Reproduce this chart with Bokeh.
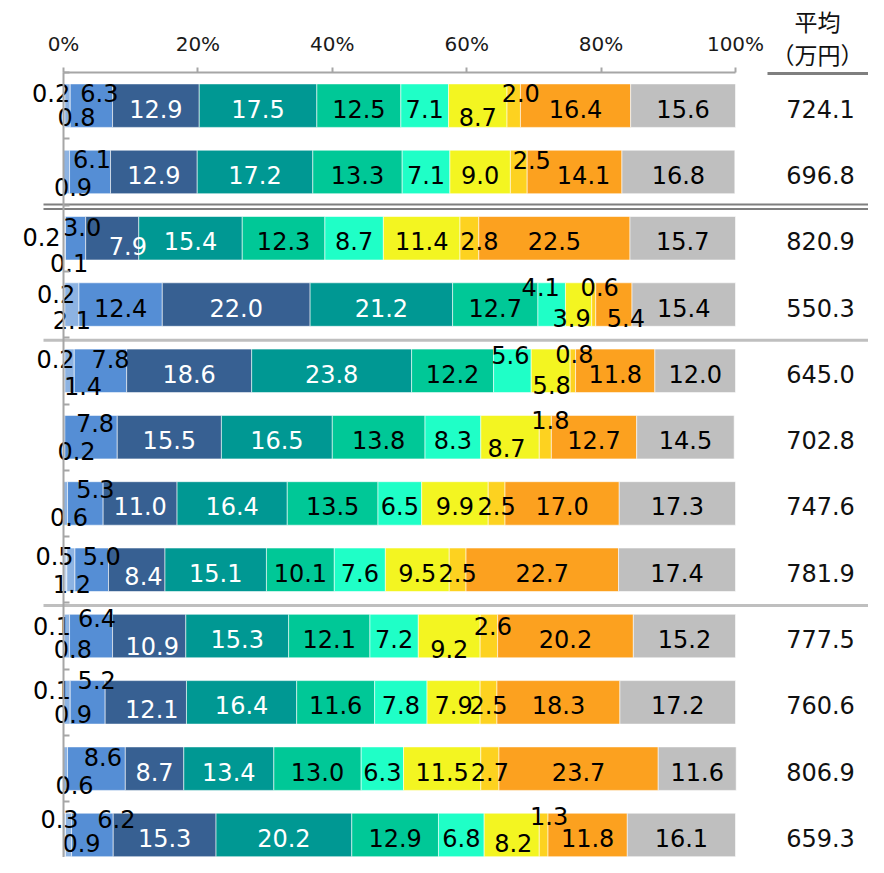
import numpy as np
from bokeh.plotting import figure
from bokeh.models import (Range1d, LinearAxis, FixedTicker, PrintfTickFormatter,
                          ColumnDataSource)
from bokeh.core.properties import value
from bokeh.embed import file_html
from bokeh.resources import INLINE

# ---------------- data (share of each band, %, one array per band) ----------------
s01 = [0.2, 0.0, 0.2, 0.2, 0.2, 0.0, 0.0, 0.5, 0.1, 0.1, 0.0, 0.3]
s02 = [0.8, 0.9, 0.1, 2.1, 1.4, 0.2, 0.6, 1.2, 0.8, 0.9, 0.6, 0.9]
s03 = [6.3, 6.1, 3.0, 12.4, 7.8, 7.8, 5.3, 5.0, 6.4, 5.2, 8.6, 6.2]
s04 = [12.9, 12.9, 7.9, 22.0, 18.6, 15.5, 11.0, 8.4, 10.9, 12.1, 8.7, 15.3]
s05 = [17.5, 17.2, 15.4, 21.2, 23.8, 16.5, 16.4, 15.1, 15.3, 16.4, 13.4, 20.2]
s06 = [12.5, 13.3, 12.3, 12.7, 12.2, 13.8, 13.5, 10.1, 12.1, 11.6, 13.0, 12.9]
s07 = [7.1, 7.1, 8.7, 4.1, 5.6, 8.3, 6.5, 7.6, 7.2, 7.8, 6.3, 6.8]
s08 = [8.7, 9.0, 11.4, 3.9, 5.8, 8.7, 9.9, 9.5, 9.2, 7.9, 11.5, 8.2]
s09 = [2.0, 2.5, 2.8, 0.6, 0.8, 1.8, 2.5, 2.5, 2.6, 2.5, 2.7, 1.3]
s10 = [16.4, 14.1, 22.5, 5.4, 11.8, 12.7, 17.0, 22.7, 20.2, 18.3, 23.7, 11.8]
s11 = [15.6, 16.8, 15.7, 15.4, 12.0, 14.5, 17.3, 17.4, 15.2, 17.2, 11.6, 16.1]
averages = [724.1, 696.8, 820.9, 550.3, 645.0, 702.8, 747.6, 781.9, 777.5, 760.6, 806.9, 659.3]
tick_values = [0, 20, 40, 60, 80, 100]
header_lines = ["平均", "（万円）"]

series = [s01, s02, s03, s04, s05, s06, s07, s08, s09, s10, s11]

# ---------------- style ----------------
colors = ["#c5d7ee", "#8db3e2", "#558ed5", "#376092", "#009893", "#00c897",
          "#1fffc7", "#f3f521", "#fdd220", "#fca11f", "#bfbfbf"]
label_colors = ["black", "black", "black", "white", "white", "black",
                "black", "black", "black", "black", "black"]
FONT = "DejaVu Sans"
JFONT = "Noto Sans CJK JP"
W, H = 868, 857
X0 = 63.0       # pixel of 0 %
TOP = 72.0      # pixel of the top axis
PX_X = 6.72     # pixels per percent
PX_Y = 66.3     # pixels per row
BAR_H = 43.5 / PX_Y
DEFAULT_DY = 3.0
# label nudges in pixels (row, band) -> (dx, dy of digit centre from row centre)
nudges = {
    (0, 0): (-13, -13), (0, 1): (9, 11.6), (0, 2): (8, -13), (0, 7): (0, 11.6), (0, 8): (7, -13),
    (1, 1): (6.5, 15), (1, 2): (2, -13), (1, 8): (13, -12), (1, 9): (9, 3),
    (2, 0): (-22.7, -1.5), (2, 1): (4, 25), (2, 2): (6.5, -11.5), (2, 3): (15.7, 8), (2, 8): (10, 3),
    (3, 0): (-8, -11), (3, 1): (0, 15), (3, 6): (-11, -17.7), (3, 7): (-7, 13), (3, 8): (6, -17.7), (3, 9): (12, 13),
    (4, 0): (-8.7, -12), (4, 1): (13.5, 15), (4, 2): (10, -12), (4, 6): (-2, -15.5), (4, 7): (1, 14.5), (4, 8): (1.5, -16.5),
    (5, 1): (12.3, 14), (5, 2): (4, -14), (5, 7): (-3.5, 11), (5, 8): (5, -16.7),
    (6, 1): (3.5, 14), (6, 2): (10, -14.5),
    (7, 0): (-10.7, -13.7), (7, 1): (1, 14.3), (7, 2): (10, -13.7), (7, 3): (6.7, 6.3),
    (8, 0): (-11.8, -10.4), (8, 1): (6, 13), (8, 2): (6, -18.4), (8, 3): (3, 9.6), (8, 7): (0, 12.6), (8, 8): (4, -10.4),
    (9, 0): (-11.8, -12.2), (9, 1): (5.8, 11.8), (9, 2): (9, -22), (9, 3): (6, 6.3),
    (10, 1): (9, 16), (10, 2): (6.5, -12),
    (11, 0): (-5, -16), (11, 1): (13, 8), (11, 2): (24, -16), (11, 7): (1.5, 8), (11, 8): (5.5, -18.5),
}

n_rows = len(averages)
row_y = [n_rows - i - 0.5 for i in range(n_rows)]


def dxp(px):
    """picture x pixel -> data x"""
    return (px - X0) / PX_X


def dyp(py):
    """picture y pixel -> data y"""
    return n_rows - (py - TOP) / PX_Y


# ---------------- build segment table ----------------
seg = dict(y=[], left=[], right=[], color=[])
lab = dict(x=[], y=[], text=[], color=[], dx=[], dy=[])
for i in range(n_rows):
    cum = 0.0
    for j, s in enumerate(series):
        v = s[i]
        seg["y"].append(row_y[i]); seg["left"].append(cum); seg["right"].append(cum + v)
        seg["color"].append(colors[j])
        if v > 0:
            dx, dy = nudges.get((i, j), (0, DEFAULT_DY))
            lab["x"].append(cum + v / 2); lab["y"].append(row_y[i])
            lab["text"].append(f"{v:.1f}"); lab["color"].append(label_colors[j])
            lab["dx"].append(dx); lab["dy"].append(dy)
        cum += v

x_range = Range1d(dxp(0), dxp(W))
y_range = Range1d(dyp(H), dyp(0))

p = figure(width=W, height=H, x_range=x_range, y_range=y_range,
           output_backend="svg", toolbar_location=None,
           x_axis_location=None, y_axis_location=None, min_border=0,
           outline_line_color=None, background_fill_color="white")
p.grid.visible = False

p.hbar(y="y", left="left", right="right", height=BAR_H, fill_color="color",
       line_color="white", line_width=0.8, line_alpha=0.7, source=ColumnDataSource(seg))

p.text(x="x", y="y", text="text", text_color="color", x_offset="dx", y_offset="dy",
       text_font=value(FONT), text_font_size=value("24px"), text_align="center",
       text_baseline="middle", source=ColumnDataSource(lab))

# separators between groups
for b, offs, col, lw in [(10, [-0.5, 4.0], "#7f7f7f", 2), (8, [2.5], "#bfbfbf", 3), (4, [2.5], "#bfbfbf", 3)]:
    for o in offs:
        yy = b - o / PX_Y
        p.segment(x0=[dxp(43)], y0=[yy], x1=[dxp(W + 5)], y1=[yy], line_color=col, line_width=lw)

# average column
p.text(x=[dxp(820)] * n_rows, y=row_y, text=[f"{a:.1f}" for a in averages], y_offset=DEFAULT_DY,
       text_font=value(FONT), text_font_size=value("24px"), text_align="center",
       text_baseline="middle", text_color="#111111")
p.text(x=[dxp(817), dxp(817)], y=[dyp(20), dyp(53)],
       text=header_lines, text_font=value(JFONT), text_font_size=value("23px"),
       text_align="center", text_baseline="middle", text_color="#111111")
p.segment(x0=[dxp(767)], y0=[dyp(TOP + 1)], x1=[dxp(W + 5)], y1=[dyp(TOP + 1)],
          line_color="#7f7f7f", line_width=3)

# axes
xa = LinearAxis(fixed_location=n_rows, bounds=(0, 100),
                ticker=FixedTicker(ticks=tick_values, minor_ticks=[]),
                formatter=PrintfTickFormatter(format="%d%%"),
                axis_line_color="#a6a6a6", axis_line_width=2,
                major_tick_line_color="#a6a6a6", major_tick_line_width=2,
                major_tick_in=0, major_tick_out=5, minor_tick_in=0, minor_tick_out=0,
                major_label_text_font=FONT, major_label_text_font_size="20px",
                major_label_text_color="#1a1a1a", major_label_standoff=12)
p.add_layout(xa, "above")
ya = LinearAxis(fixed_location=0, bounds=(0, n_rows),
                ticker=FixedTicker(ticks=list(range(n_rows + 1)), minor_ticks=[]),
                major_label_overrides={k: "" for k in range(n_rows + 1)},
                axis_line_color="#a6a6a6", axis_line_width=2,
                major_tick_line_color="#a6a6a6", major_tick_line_width=2,
                major_tick_in=6, major_tick_out=0, minor_tick_in=0, minor_tick_out=0)
p.add_layout(ya, "left")

open("out.html", "w").write(file_html(p, INLINE))
